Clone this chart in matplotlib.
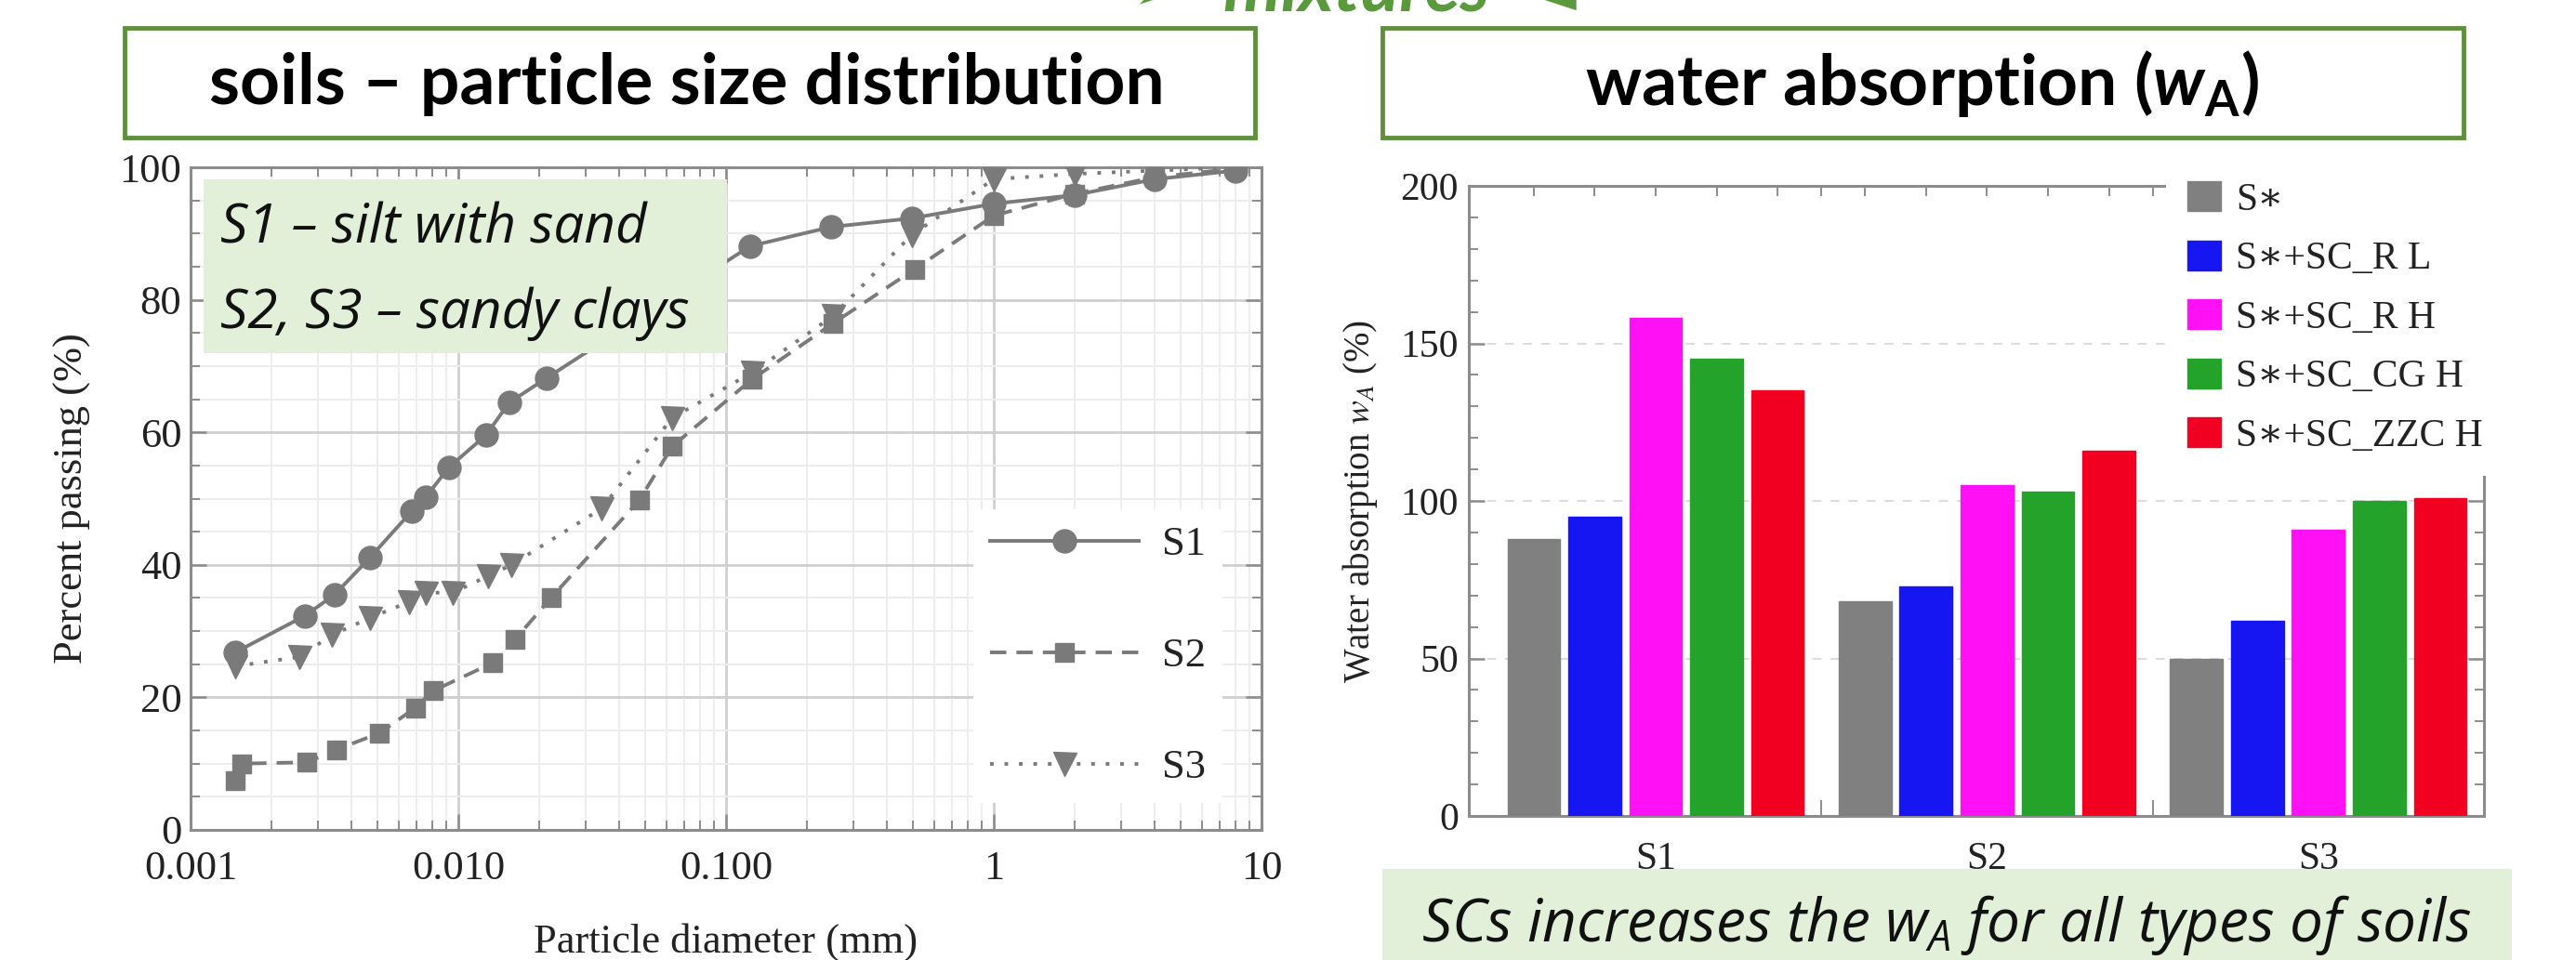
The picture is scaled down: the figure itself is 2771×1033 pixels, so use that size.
import matplotlib
matplotlib.use("Agg")
import matplotlib.pyplot as plt
from matplotlib.patches import Rectangle
from matplotlib.ticker import FixedLocator, NullFormatter, MultipleLocator, LogLocator
import numpy as np

# ---------------- data ----------------
# particle size distribution (diameter mm, percent passing)
s1_d = [0.00147, 0.00267, 0.00345, 0.00468, 0.0067, 0.00755, 0.00922, 0.0127, 0.0155, 0.0214,
        0.123, 0.247, 0.494, 1.0, 2.0, 4.0, 8.0]
s1_p = [26.8, 32.3, 35.5, 41.1, 48.1, 50.2, 54.7, 59.6, 64.5, 68.2,
        88.1, 91.0, 92.3, 94.5, 95.8, 98.2, 99.5]
s2_d = [0.00147, 0.00155, 0.00272, 0.0035, 0.00507, 0.0069, 0.00806, 0.01345, 0.01625, 0.0223,
        0.0475, 0.0630, 0.125, 0.25, 0.505, 1.0, 2.0, 4.0, 8.0]
s2_p = [7.5, 10.0, 10.2, 12.1, 14.6, 18.4, 21.0, 25.2, 28.7, 35.1,
        49.8, 57.9, 68.0, 76.4, 84.6, 92.7, 96.0, 98.5, 99.8]
s3_d = [0.00147, 0.00254, 0.00337, 0.00468, 0.00654, 0.00755, 0.00953, 0.0129, 0.0158, 0.0343,
        0.0630, 0.125, 0.25, 0.494, 1.0, 2.0, 4.0, 8.0]
s3_p = [24.7, 26.1, 29.4, 32.0, 34.4, 35.8, 35.8, 38.3, 40.0, 48.5,
        62.2, 69.0, 77.5, 89.8, 98.2, 99.0, 99.5, 100.0]
x_ticks = [0.001, 0.01, 0.1, 1, 10]
x_tick_labels = ["0.001", "0.010", "0.100", "1", "10"]

# water absorption
soils = ["S1", "S2", "S3"]
wa_labels = ["S\u2217", "S\u2217+SC_R L", "S\u2217+SC_R H", "S\u2217+SC_CG H", "S\u2217+SC_ZZC H"]
wa_values = [
    [88, 68, 50],
    [95, 73, 62],
    [158, 105, 91],
    [145, 103, 100],
    [135, 116, 101],
]
wa_colors = ["#808080", "#1616f2", "#ff10f5", "#23a32a", "#f20022"]

# ---------------- style ----------------
plt.rcParams["mathtext.fontset"] = "custom"
plt.rcParams["mathtext.it"] = "Open Sans:italic"
plt.rcParams["mathtext.bf"] = "Lato:bold:italic"
plt.rcParams["mathtext.rm"] = "Lato:bold"

W, H = 2771, 1033
fig = plt.figure(figsize=(W / 100, H / 100), dpi=100)
fig.patch.set_facecolor("white")

def fx(px):
    return px / W

def fy(py):
    return 1 - py / H

SERIF = ["Liberation Serif", "DejaVu Serif"]
GRAY = "#7a7a7a"
SPINE = "#8c8c8c"
GREEN_EDGE = "#5f8f3f"
GREEN_FILL = "#e2efd9"
TXT = "#222222"

# ---------------- left axes ----------------
ax1 = fig.add_axes([fx(205), fy(893), fx(1357) - fx(205), fy(180) - fy(893)])
ax1.set_xscale("log")
ax1.set_xlim(0.001, 10)
ax1.set_ylim(0, 100)

l1, = ax1.plot(s1_d, s1_p, "-o", color=GRAY, lw=2.8, ms=18, label="S1", zorder=4)
l2, = ax1.plot(s2_d, s2_p, "s", ls=(0, (4.5, 2.8)), color=GRAY, lw=2.8, ms=15, label="S2", zorder=4)
l3, = ax1.plot(s3_d, s3_p, "v", ls=(0, (1, 3)), color=GRAY, lw=2.8, ms=18, label="S3", zorder=4)

ax1.set_xticks(x_ticks)
ax1.set_xticklabels(x_tick_labels)
ax1.xaxis.set_minor_locator(LogLocator(base=10, subs=np.arange(2, 10)))
ax1.xaxis.set_minor_formatter(NullFormatter())
ax1.yaxis.set_major_locator(MultipleLocator(20))
ax1.yaxis.set_minor_locator(MultipleLocator(5))

ax1.grid(True, which="major", color="#cfcfcf", lw=2.0)
ax1.grid(True, which="minor", color="#ededed", lw=1.4)
ax1.set_axisbelow(True)

ax1.tick_params(which="both", direction="in", top=True, right=True, color=SPINE)
ax1.tick_params(which="major", length=12, width=1.8)
ax1.tick_params(which="minor", length=7, width=1.4)
ax1.tick_params(axis="x", which="major", pad=16)
ax1.tick_params(axis="y", which="major", pad=7)
for lab in ax1.get_xticklabels() + ax1.get_yticklabels():
    lab.set_family(SERIF)
    lab.set_fontsize(32)
    lab.set_color(TXT)
for sp in ax1.spines.values():
    sp.set_color(SPINE)
    sp.set_linewidth(2.2)

ax1.set_xlabel("Particle diameter (mm)", family=SERIF, fontsize=32, labelpad=27, color=TXT)
ax1.set_ylabel("Percent passing (%)", family=SERIF, fontsize=32, labelpad=22, color=TXT)

leg1 = ax1.legend(handles=[l1, l2, l3], loc="center left", bbox_to_anchor=(0.712, 0.262),
                  prop={"family": SERIF, "size": 32}, frameon=True, framealpha=1,
                  facecolor="white", edgecolor="none", fancybox=False,
                  handlelength=3.6, handletextpad=0.55, labelspacing=1.8, borderpad=0.4)
for t in leg1.get_texts():
    t.set_color(TXT)

# annotation box inside left chart
fig.patches.append(Rectangle((fx(219), fy(380)), fx(782) - fx(219), fy(193) - fy(380),
                             transform=fig.transFigure, facecolor=GREEN_FILL, edgecolor="none",
                             zorder=5))
fig.text(fx(237), fy(262), "S1 \u2013 silt with sand", family="Open Sans", style="italic",
         fontsize=42, va="baseline", ha="left", color="#111111", zorder=6)
fig.text(fx(237), fy(353), "S2, S3 \u2013 sandy clays", family="Open Sans", style="italic",
         fontsize=42, va="baseline", ha="left", color="#111111", zorder=6)

# ---------------- right axes ----------------
ax2 = fig.add_axes([fx(1580), fy(878), fx(2672) - fx(1580), fy(200) - fy(878)])
n = len(wa_labels)
slot, bw = 0.184, 0.159
xg = np.arange(len(soils))
bar_centers = []
for i, (lab, vals, col) in enumerate(zip(wa_labels, wa_values, wa_colors)):
    pos = xg + (i - (n - 1) / 2) * slot
    bar_centers.extend(pos)
    ax2.bar(pos, vals, width=bw, color=col, edgecolor=col, lw=1.0, label=lab, zorder=3)

ax2.set_xlim(-0.564, 2.5)
ax2.set_ylim(0, 200)
ax2.set_xticks(xg)
ax2.set_xticklabels(soils)
ax2.xaxis.set_minor_locator(FixedLocator([0.5, 1.5]))
ax2.yaxis.set_major_locator(MultipleLocator(50))
ax2.yaxis.set_minor_locator(MultipleLocator(10))
ax2.tick_params(axis="x", which="major", length=0, pad=20)
ax2.tick_params(axis="x", which="minor", direction="in", length=12, width=1.4, color=SPINE)
ax2.tick_params(axis="y", which="both", direction="in", right=True, color=SPINE)
ax2.tick_params(axis="y", which="major", length=12, width=1.8, pad=8)
ax2.tick_params(axis="y", which="minor", length=7, width=1.4)
ax2.yaxis.grid(True, which="major", color="#dcdcdc", lw=1.4, ls=(0, (5, 5)))
ax2.set_axisbelow(True)
for lab in ax2.get_xticklabels() + ax2.get_yticklabels():
    lab.set_family(SERIF)
    lab.set_fontsize(30)
    lab.set_color(TXT)
for sp in ax2.spines.values():
    sp.set_color(SPINE)
    sp.set_linewidth(2.2)

top_ticks = sorted(list(bar_centers) + [0.5, 1.5])
sec = ax2.secondary_xaxis("top")
sec.set_xticks(top_ticks)
sec.set_xticklabels([])
sec.tick_params(direction="in", length=8, width=1.4, color=SPINE)
sec.spines["top"].set_visible(False)

ylab2 = ax2.set_ylabel("Water absorption $w_A$ (%)", family=SERIF, fontsize=28,
                       labelpad=16, color=TXT)
ylab2.set_math_fontfamily("stix")

leg2 = ax2.legend(loc="upper left", bbox_to_anchor=(0.687, 1.041), borderaxespad=0,
                  prop={"family": SERIF, "size": 30}, frameon=True, framealpha=1,
                  facecolor="white", edgecolor="none", fancybox=False,
                  handlelength=0.85, handleheight=0.8, handletextpad=0.4,
                  labelspacing=0.58, borderpad=0.55)
leg2.set_zorder(10)
for t in leg2.get_texts():
    t.set_color(TXT)

# note box under right chart
fig.patches.append(Rectangle((fx(1487), fy(1040)), fx(2702) - fx(1487), fy(935) - fy(1040),
                             transform=fig.transFigure, facecolor=GREEN_FILL, edgecolor="none",
                             zorder=1))
fig.text(fx(2094), fy(1013), "SCs increases the $w_A$ for all types of soils", family="Open Sans",
         style="italic", fontsize=46, va="baseline", ha="center", color="#111111",
         math_fontfamily="custom")

# ---------------- title boxes ----------------
for (x0, x1) in [(134, 1350), (1487, 2650)]:
    fig.patches.append(Rectangle((fx(x0), fy(148)), fx(x1) - fx(x0), fy(30) - fy(148),
                                 transform=fig.transFigure, facecolor="white",
                                 edgecolor=GREEN_EDGE, lw=3.5, zorder=1))
fig.text(fx(739), fy(112), "soils \u2013 particle size distribution", family="Lato",
         weight="bold", fontsize=54, ha="center", va="baseline", color="#000000")
fig.text(fx(2068), fy(113), "water absorption ($\\mathbf{w}_{\\mathrm{A}}$)", family="Lato",
         weight="bold", fontsize=54, ha="center", va="baseline", color="#000000",
         math_fontfamily="custom")

# cropped heading at top
fig.text(fx(1456), fy(11), "\u27a2  mixtures  \u25c4", family=["Lato", "DejaVu Sans"],
         weight="bold", style="italic", fontsize=56, ha="center", va="baseline",
         color="#5a9a3c")

fig.savefig("out.png", dpi=100, facecolor="white")
